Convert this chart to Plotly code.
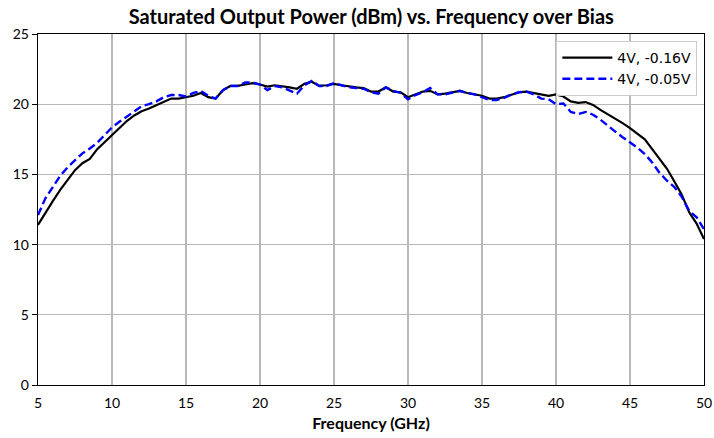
import plotly.graph_objects as go

freq = [5.0, 5.5, 6.0, 6.5, 7.0, 7.5, 8.0, 8.5, 9.0, 9.5,
        10.0, 10.5, 11.0, 11.5, 12.0, 12.5, 13.0, 13.5, 14.0, 14.5,
        15.0, 15.5, 16.0, 16.5, 17.0, 17.5, 18.0, 18.5, 19.0, 19.5,
        20.0, 20.5, 21.0, 21.5, 22.0, 22.5, 23.0, 23.5, 24.0, 24.5,
        25.0, 25.5, 26.0, 26.5, 27.0, 27.5, 28.0, 28.5, 29.0, 29.5,
        30.0, 30.5, 31.0, 31.5, 32.0, 32.5, 33.0, 33.5, 34.0, 34.5,
        35.0, 35.5, 36.0, 36.5, 37.0, 37.5, 38.0, 38.5, 39.0, 39.5,
        40.0, 40.5, 41.0, 41.5, 42.0, 42.5, 43.0, 43.5, 44.0, 44.5,
        45.0, 45.5, 46.0, 46.5, 47.0, 47.5, 48.0, 48.5, 49.0, 49.5, 50.0]

psat_016 = [11.4, 12.3, 13.1, 13.9, 14.6, 15.3, 15.8, 16.1, 16.8, 17.3,
            17.8, 18.3, 18.8, 19.2, 19.5, 19.7, 19.95, 20.2, 20.4, 20.4,
            20.5, 20.6, 20.8, 20.5, 20.4, 21.0, 21.3, 21.3, 21.4, 21.5,
            21.4, 21.25, 21.35, 21.3, 21.2, 21.1, 21.45, 21.6, 21.3, 21.35,
            21.45, 21.35, 21.25, 21.2, 21.15, 20.9, 20.9, 21.2, 20.9, 20.85,
            20.5, 20.7, 20.9, 20.95, 20.7, 20.75, 20.85, 20.95, 20.8, 20.72,
            20.6, 20.4, 20.4, 20.5, 20.7, 20.85, 20.9, 20.8, 20.7, 20.6,
            20.7, 20.55, 20.2, 20.1, 20.15, 19.95, 19.6, 19.3, 19.0, 18.65,
            18.3, 17.9, 17.5, 16.8, 16.1, 15.4, 14.5, 13.55, 12.3, 11.5, 10.4]

psat_005 = [12.1, 13.3, 14.1, 14.9, 15.5, 16.0, 16.5, 16.85, 17.25, 17.8,
            18.35, 18.75, 19.1, 19.5, 19.85, 20.0, 20.2, 20.5, 20.65, 20.65,
            20.55, 20.8, 20.95, 20.6, 20.4, 21.0, 21.3, 21.3, 21.55, 21.55,
            21.4, 21.0, 21.3, 21.2, 21.0, 20.75, 21.35, 21.65, 21.3, 21.3,
            21.5, 21.35, 21.2, 21.15, 21.1, 20.85, 20.75, 21.2, 20.95, 20.8,
            20.35, 20.65, 20.85, 21.15, 20.7, 20.7, 20.85, 20.95, 20.8, 20.7,
            20.5, 20.3, 20.3, 20.45, 20.7, 20.85, 20.9, 20.7, 20.4, 20.35,
            20.0, 20.05, 19.45, 19.3, 19.45, 19.25, 18.9, 18.45, 18.05, 17.65,
            17.3, 16.9, 16.45, 15.85, 15.1, 14.55, 14.1, 13.4, 12.4, 11.95, 11.1]

series_names = ["4V, -0.16V", "4V, -0.05V"]
x_ticks = [5, 10, 15, 20, 25, 30, 35, 40, 45, 50]
y_ticks = [0, 5, 10, 15, 20, 25]

fig = go.Figure()
fig.add_trace(go.Scatter(x=freq, y=psat_016, mode="lines", name=series_names[0],
                         line=dict(color="black", width=2.2)))
fig.add_trace(go.Scatter(x=freq, y=psat_005, mode="lines", name=series_names[1],
                         line=dict(color="#0000ff", width=2.4, dash="8px,4px")))

axis_common = dict(showline=True, linecolor="black", linewidth=1.3, mirror=True,
                   showgrid=True, gridcolor="#b8b8b8", gridwidth=1.3, zeroline=False,
                   automargin=False,
                   tickfont=dict(family="Lato, sans-serif", size=14, color="black"))

fig.update_layout(
    width=714, height=438,
    margin=dict(l=38, r=10, t=34, b=53),
    paper_bgcolor="white", plot_bgcolor="white",
    title=dict(text="<b>Saturated Output Power (dBm) vs. Frequency over Bias</b>",
               x=0.52, xanchor="center", y=0.962, yanchor="middle",
               font=dict(family="Lato, sans-serif", size=20, color="black")),
    xaxis=dict(range=[5, 50], tickvals=x_ticks, ticks="", ticklabelstandoff=5,
               **axis_common,
               title=dict(text="<b>Frequency (GHz)</b>", standoff=7,
                          font=dict(family="Lato, sans-serif", size=16, color="black"))),
    yaxis=dict(range=[0, 25], tickvals=y_ticks, ticks="outside", ticklen=5,
               tickcolor="black", **axis_common),
    legend=dict(x=0.99, xanchor="right", y=0.98, yanchor="top",
                bgcolor="rgba(255,255,255,0.9)", bordercolor="#cccccc", borderwidth=1,
                font=dict(family="DejaVu Sans, sans-serif", size=14, color="black"),
                itemwidth=50, tracegroupgap=0),
    showlegend=True,
)

# remove the browser's default 8px page margin so the figure fills the window
fig.write_html("out.html",
               config={"displayModeBar": False, "staticPlot": True},
               post_script="document.body.style.margin='0';document.body.style.overflow='hidden';")
